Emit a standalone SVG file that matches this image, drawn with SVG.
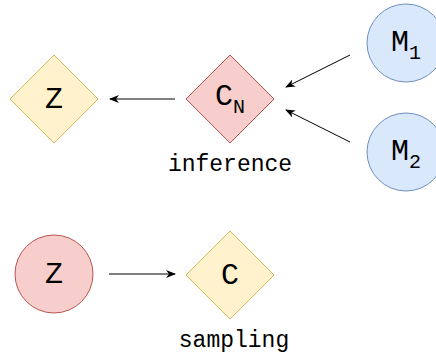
<svg xmlns="http://www.w3.org/2000/svg" width="436" height="356" viewBox="0 0 436 356">
  <style>
    .yellow { fill: #fff2cc; stroke: #d6b656; stroke-width: 1; }
    .red { fill: #f8cecc; stroke: #b85450; stroke-width: 1; }
    .blue { fill: #dae8fc; stroke: #6c8ebf; stroke-width: 1; }
    .lbl { font-family: "Liberation Mono", "Courier New", monospace; font-size: 30px; fill: #000; text-anchor: middle; }
    .sub { font-size: 20px; }
    .cap { font-family: "Liberation Mono", "Courier New", monospace; font-size: 23px; fill: #000; text-anchor: middle; }
    .edge { stroke: #000; stroke-width: 1; fill: none; marker-end: url(#arrow); }
  </style>
  <defs>
    <marker id="arrow" viewBox="0 0 10 10" refX="9" refY="5" markerWidth="10" markerHeight="10" markerUnits="userSpaceOnUse" orient="auto">
      <path d="M0,1 L10,5 L0,9 L3,5 Z" fill="#000"/>
    </marker>
  </defs>

  <g id="connectors">
    <line class="edge" x1="175" y1="99" x2="110" y2="99"/>
    <line class="edge" x1="350" y1="55" x2="286" y2="87"/>
    <line class="edge" x1="350" y1="142" x2="286" y2="110"/>
    <line class="edge" x1="109" y1="274" x2="175" y2="274"/>
  </g>

  <g id="node-z-inference">
    <polygon class="yellow" points="54,55 98,99 54,143 10,99"/>
    <text class="lbl" x="54" y="108">Z</text>
  </g>

  <g id="node-cn">
    <polygon class="red" points="230,55 274,99 230,143 186,99"/>
    <text class="lbl" x="230" y="105">C<tspan class="sub" dy="8">N</tspan></text>
  </g>

  <g id="node-m1">
    <circle class="blue" cx="406" cy="43" r="39"/>
    <text class="lbl" x="406" y="51">M<tspan class="sub" dy="8">1</tspan></text>
  </g>

  <g id="node-m2">
    <circle class="blue" cx="406" cy="152" r="39"/>
    <text class="lbl" x="406" y="160">M<tspan class="sub" dy="8">2</tspan></text>
  </g>

  <g id="node-z-sampling">
    <circle class="red" cx="54" cy="274" r="39"/>
    <text class="lbl" x="54" y="283">Z</text>
  </g>

  <g id="node-c">
    <polygon class="yellow" points="230,231 274,275 230,319 186,275"/>
    <text class="lbl" x="230" y="284">C</text>
  </g>

  <text class="cap" x="230" y="171">inference</text>
  <text class="cap" x="234" y="347">sampling</text>
</svg>
